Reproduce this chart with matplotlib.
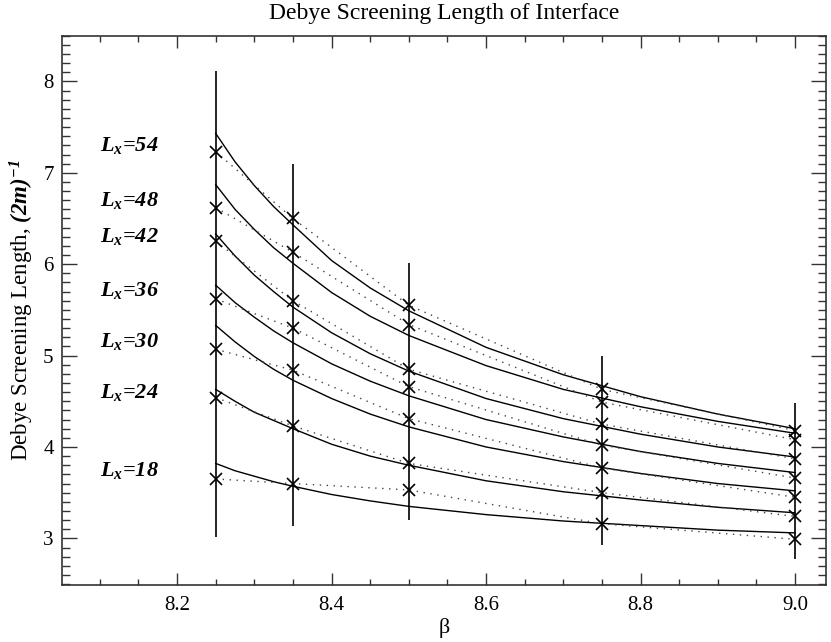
import matplotlib
matplotlib.use("Agg")
import matplotlib.pyplot as plt
from matplotlib.ticker import MultipleLocator

plt.rcParams["font.family"] = ["Liberation Serif", "DejaVu Serif"]
plt.rcParams["mathtext.fontset"] = "custom"
plt.rcParams["mathtext.rm"] = "Liberation Serif"
plt.rcParams["mathtext.it"] = "Liberation Serif:italic"
plt.rcParams["mathtext.bf"] = "Liberation Serif:bold"
plt.rcParams["mathtext.bfit"] = "Liberation Serif:italic:bold"

# Measured screening lengths at each coupling beta
beta = [8.25, 8.35, 8.50, 8.75, 9.00]
lx_sizes = [54, 48, 42, 36, 30, 24, 18]
measured = {
    54: [7.23, 6.50, 5.55, 4.63, 4.18],
    48: [6.62, 6.13, 5.34, 4.49, 4.08],
    42: [6.25, 5.60, 4.85, 4.25, 3.87],
    36: [5.62, 5.30, 4.66, 4.02, 3.66],
    30: [5.07, 4.84, 4.31, 3.77, 3.45],
    24: [4.54, 4.23, 3.82, 3.50, 3.24],
    18: [3.65, 3.60, 3.53, 3.16, 2.99],
}

# Error range drawn at each beta
err_low = [3.02, 3.13, 3.20, 2.93, 2.77]
err_high = [8.11, 7.10, 6.01, 4.99, 4.48]

# Fitted curves sampled along beta
beta_fit = [8.25, 8.275, 8.30, 8.325, 8.35, 8.40, 8.45, 8.50, 8.60, 8.70,
            8.80, 8.90, 9.00]
fitted = {
    54: [7.43, 7.12, 6.86, 6.63, 6.43, 6.04, 5.74, 5.49, 5.09, 4.79, 4.55, 4.36, 4.20],
    48: [6.87, 6.60, 6.38, 6.18, 6.01, 5.69, 5.43, 5.22, 4.89, 4.63, 4.44, 4.28, 4.15],
    42: [6.33, 6.09, 5.88, 5.70, 5.53, 5.25, 5.02, 4.83, 4.53, 4.31, 4.14, 4.00, 3.89],
    36: [5.77, 5.58, 5.42, 5.27, 5.14, 4.91, 4.72, 4.56, 4.30, 4.11, 3.95, 3.82, 3.72],
    30: [5.33, 5.15, 4.99, 4.85, 4.73, 4.53, 4.36, 4.22, 4.00, 3.84, 3.71, 3.60, 3.52],
    24: [4.63, 4.50, 4.38, 4.29, 4.20, 4.03, 3.90, 3.80, 3.63, 3.51, 3.42, 3.34, 3.28],
    18: [3.82, 3.74, 3.68, 3.62, 3.57, 3.48, 3.41, 3.35, 3.26, 3.19, 3.14, 3.09, 3.06],
}

# Label anchor heights for each L_x
label_y = {54: 7.30, 48: 6.70, 42: 6.30, 36: 5.71, 30: 5.15, 24: 4.60, 18: 3.74}
label_x = 8.10

fig = plt.figure(figsize=(8.31, 6.42), dpi=100)
ax = fig.add_axes([0.0746, 0.0888, 0.9194, 0.8556])

ax.vlines(beta, err_low, err_high, colors="black", linewidth=1.2, zorder=2)

for L in lx_sizes:
    ax.plot(beta_fit, fitted[L], color="black", linewidth=1.0, zorder=3)
    ax.plot(beta, measured[L], color="#444444", linewidth=1.0,
            linestyle=(0, (1, 4)), zorder=3)
    ax.plot(beta, measured[L], linestyle="none", marker="x", markersize=9,
            markeredgewidth=1.2, color="black", zorder=4)
    ax.text(label_x, label_y[L], r"$\mathbfit{L}_{\mathbfit{x}}$=%d" % L,
            fontsize=16, fontweight="bold", style="italic",
            ha="left", va="center")

ax.set_xlim(8.051, 9.040)
ax.set_ylim(2.49, 8.50)

ax.xaxis.set_major_locator(MultipleLocator(0.2))
ax.xaxis.set_minor_locator(MultipleLocator(0.05))
ax.yaxis.set_major_locator(MultipleLocator(1))
ax.yaxis.set_minor_locator(MultipleLocator(0.1))
ax.set_xticks([8.2, 8.4, 8.6, 8.8, 9.0])
ax.set_xticklabels(["8.2", "8.4", "8.6", "8.8", "9.0"])

ax.tick_params(axis="both", which="both", direction="in", top=True, right=True,
               labelsize=15, color="#333333")
ax.tick_params(axis="x", which="major", length=8.5, width=1.0, pad=8)
ax.tick_params(axis="x", which="minor", length=4.5, width=1.0)
ax.tick_params(axis="y", which="major", length=10.5, width=1.0, pad=6)
ax.tick_params(axis="y", which="minor", length=5.5, width=1.0)
for s in ax.spines.values():
    s.set_linewidth(1.2)
    s.set_color("#333333")

fig.text(0.5343, 1 - 14 / 642, "Debye Screening Length of Interface",
         fontsize=17, ha="center", va="center")
ax.set_xlabel("β", fontsize=16, labelpad=2)
ax.set_ylabel(r"Debye Screening Length, $\mathbfit{(2m)}^{\mathbfit{-1}}$",
              fontsize=16.5, labelpad=5)

fig.savefig("out.png", dpi=100)
